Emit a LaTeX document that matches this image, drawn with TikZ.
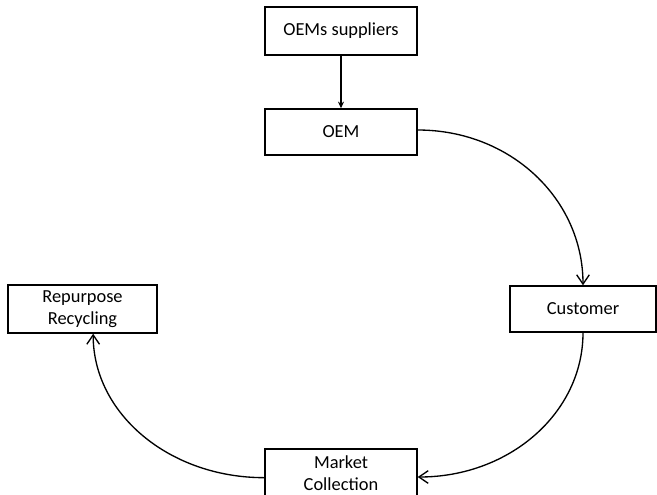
\documentclass[tikz,border=0pt]{standalone}
\usepackage{fontspec}
\setmainfont{Carlito}
\usetikzlibrary{arrows.meta}
\begin{document}
\begin{tikzpicture}[x=0.75pt,y=-0.75pt,
  box/.style={draw,line width=1.1pt,rectangle,inner sep=0pt,align=center,
    font=\fontsize{13.8}{16.5}\selectfont},
  link/.style={line width=1pt},
  feed/.style={link,-{Stealth[length=5pt,width=4.5pt]}},
  flow/.style={link,-{Straight Barb[length=7pt,width=9.5pt,line width=1pt]}}]
  \clip (0,0) rectangle (657,494);
  \useasboundingbox (0,0) rectangle (657,494);
  \fill[white] (0,0) rectangle (657,494);

  \node[box,minimum width=114pt,minimum height=36pt] (sup) at (341,31) {OEMs suppliers};
  \node[box,minimum width=114pt,minimum height=34.5pt] (oem) at (341,132) {OEM};
  \node[box,minimum width=109.5pt,minimum height=34.5pt] (cust) at (583,309) {Customer};
  \node[box,minimum width=111.75pt,minimum height=36pt] (rep) at (82.5,309) {Repurpose\\Recycling};
  \node[box,minimum width=114pt,minimum height=36pt] (mkt) at (341,473) {Market\\Collection};

  \draw[feed] (sup) -- (oem);
  \draw[flow] ([yshift=1.5pt]oem.east) .. controls +(93,0) and +(0,-86) .. (cust.north);
  \draw[flow] (cust.south) .. controls +(0,80) and +(92,0) .. ([yshift=-3pt]mkt.east);
  \draw[flow] ([yshift=-3.5pt]mkt.west) .. controls +(-95,0) and +(0,80) .. ([xshift=8pt]rep.south);
\end{tikzpicture}
\end{document}
